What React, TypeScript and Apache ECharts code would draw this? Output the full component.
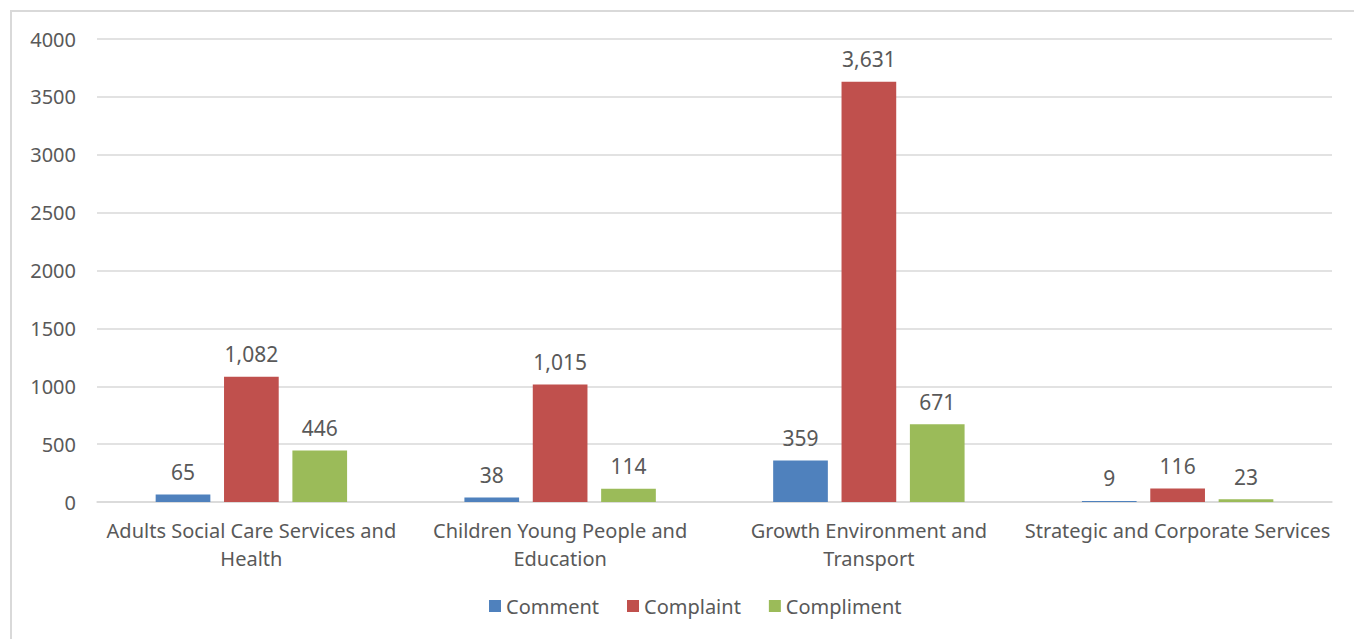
import React, { useEffect, useRef } from "react";
import * as echarts from "echarts";

const categories = [
  "Adults Social Care Services and\nHealth",
  "Children Young People and\nEducation",
  "Growth Environment and\nTransport",
  "Strategic and Corporate Services",
];
const seriesNames = ["Comment", "Complaint", "Compliment"];
const commentValues = [65, 38, 359, 9];
const complaintValues = [1082, 1015, 3631, 116];
const complimentValues = [446, 114, 671, 23];
const colors = ["#4F81BD", "#C0504D", "#9BBB59"];

const FONT = "'Noto Sans', sans-serif";
const TEXT = "#595959";

export default function App() {
  const ref = useRef<HTMLDivElement>(null);
  useEffect(() => {
    if (!ref.current) return;
    const chart = echarts.init(ref.current, null, { renderer: "svg" });
    const fmt = (p: any) => Number(p.value).toLocaleString("en-US");
    const mk = (name: string, data: number[], color: string) => ({
      name,
      type: "bar",
      data,
      itemStyle: { color },
      barGap: "25%",
      barCategoryGap: "38%",
      label: {
        show: true,
        position: "top",
        distance: 12,
        formatter: fmt,
        color: TEXT,
        fontFamily: FONT,
        fontSize: 21,
      },
    });
    chart.setOption({
      animation: false,
      textStyle: { fontFamily: FONT },
      graphic: [
        {
          type: "rect",
          shape: { x: 11, y: 11, width: 1500, height: 800 },
          style: { fill: "none", stroke: "#d9d9d9", lineWidth: 2 },
          silent: true,
        },
      ],
      grid: { left: 97, right: 22, top: 39, bottom: 137 },
      legend: {
        bottom: 18,
        left: 484,
        itemWidth: 12,
        itemHeight: 12,
        itemGap: 28,
        icon: "rect",
        textStyle: { color: TEXT, fontSize: 20, fontFamily: FONT },
        data: seriesNames,
      },
      xAxis: {
        type: "category",
        data: categories,
        axisLine: { lineStyle: { color: "#d9d9d9", width: 1.5 } },
        axisTick: { show: false },
        axisLabel: {
          color: TEXT,
          fontSize: 20,
          fontFamily: FONT,
          lineHeight: 28,
          margin: 14,
          interval: 0,
        },
      },
      yAxis: {
        type: "value",
        min: 0,
        max: 4000,
        interval: 500,
        axisLine: { show: false },
        axisTick: { show: false },
        splitLine: { lineStyle: { color: "#d9d9d9", width: 1.5 } },
        axisLabel: {
          color: TEXT,
          fontSize: 20,
          fontFamily: FONT,
          margin: 21,
          formatter: (v: number) => String(v),
        },
      },
      series: [
        mk(seriesNames[0], commentValues, colors[0]),
        mk(seriesNames[1], complaintValues, colors[1]),
        mk(seriesNames[2], complimentValues, colors[2]),
      ],
    });
    return () => chart.dispose();
  }, []);
  return (
    <div
      ref={ref}
      style={{ position: "fixed", left: 0, top: 0, width: 1354, height: 639, background: "#fff" }}
    />
  );
}
